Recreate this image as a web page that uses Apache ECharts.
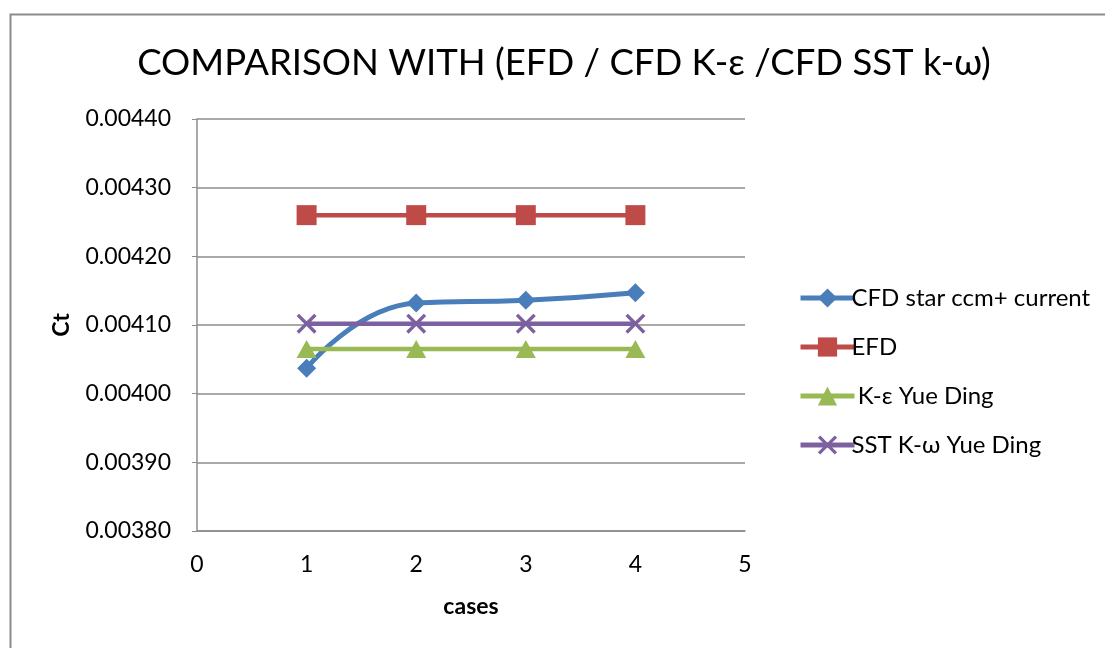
<!DOCTYPE html>
<html>
<head>
<meta charset="utf-8">
<script src="https://cdn.jsdelivr.net/npm/echarts@6/dist/echarts.min.js"></script>
<style>
  html, body { margin: 0; padding: 0; background: #fff; }
  #chart { width: 1105px; height: 648px; }
</style>
</head>
<body>
<div id="chart"></div>
<script>
// Total resistance coefficient Ct per case
const cases = [1, 2, 3, 4];
const cfdStarCcm = [0.004037, 0.004132, 0.004136, 0.004147];
const efd = [0.00426, 0.00426, 0.00426, 0.00426];
const kEpsYueDing = [0.004065, 0.004065, 0.004065, 0.004065];
const sstKOmegaYueDing = [0.004102, 0.004102, 0.004102, 0.004102];

const seriesNames = ['CFD star ccm+ current', 'EFD', ' K-ε Yue Ding', 'SST K-ω Yue Ding'];
const FONT = 'Lato';

const pairs = vals => cases.map((c, i) => [c, vals[i]]);
const crossPath = 'path://M0,1.2L1.2,0L5,3.8L8.8,0L10,1.2L6.2,5L10,8.8L8.8,10L5,6.2L1.2,10L0,8.8L3.8,5Z';

const chart = echarts.init(document.getElementById('chart'), null, { renderer: 'canvas' });
chart.setOption({
  backgroundColor: '#fff',
  animation: false,
  title: {
    text: 'COMPARISON WITH (EFD / CFD K-ε /CFD SST k-ω)',
    left: 559,
    textAlign: 'center',
    top: 40,
    textStyle: { fontFamily: FONT, fontWeight: 'normal', fontSize: 36.5, color: '#000' }
  },
  graphic: [{
    type: 'rect',
    shape: { x: 10.5, y: 14.5, width: 1200, height: 800 },
    style: { fill: 'none', stroke: '#8c8c8c', lineWidth: 2 },
    silent: true, z: -1
  }],
  legend: {
    orient: 'vertical',
    left: 793,
    top: 281,
    itemGap: 25,
    itemWidth: 54,
    itemHeight: 24,
    lineStyle: { width: 5 },
    textStyle: { fontFamily: FONT, fontSize: 24, color: '#000', padding: [0, 0, 0, -8] },
    data: seriesNames
  },
  grid: { left: 197, top: 119, width: 548, height: 412, containLabel: false },
  xAxis: {
    type: 'value',
    min: 0, max: 5, interval: 1,
    name: 'cases',
    nameLocation: 'middle',
    nameGap: 64,
    nameTextStyle: { fontFamily: FONT, fontWeight: 'bold', fontSize: 23, color: '#000' },
    axisLine: { lineStyle: { color: '#8c8c8c', width: 1.5 } },
    axisTick: { show: false },
    splitLine: { show: false },
    axisLabel: { fontFamily: FONT, fontSize: 23, color: '#000', margin: 22 }
  },
  yAxis: {
    type: 'value',
    min: 0.0038, max: 0.0044, interval: 0.0001,
    name: 'Ct',
    nameLocation: 'middle',
    nameGap: 124,
    nameTextStyle: { fontFamily: FONT, fontWeight: 'bold', fontSize: 23, color: '#000' },
    axisLine: { show: true, lineStyle: { color: '#8c8c8c', width: 1.5 } },
    axisTick: { show: true, length: 5, lineStyle: { color: '#8c8c8c' } },
    splitLine: { lineStyle: { color: '#8c8c8c', width: 1.5 } },
    axisLabel: {
      fontFamily: FONT, fontSize: 23, color: '#000', margin: 26,
      formatter: v => v.toFixed(5)
    }
  },
  series: [
    {
      name: seriesNames[0], type: 'line', data: pairs(cfdStarCcm),
      smooth: 0.5, symbol: 'diamond', symbolSize: 19,
      lineStyle: { color: '#4a7ebb', width: 5 },
      itemStyle: { color: '#4a7ebb' }
    },
    {
      name: seriesNames[1], type: 'line', data: pairs(efd),
      symbol: 'rect', symbolSize: 20,
      lineStyle: { color: '#be4b48', width: 4.5 },
      itemStyle: { color: '#be4b48' }
    },
    {
      name: seriesNames[2], type: 'line', data: pairs(kEpsYueDing),
      symbol: 'triangle', symbolSize: [20, 18],
      lineStyle: { color: '#98b954', width: 4.5 },
      itemStyle: { color: '#98b954' }
    },
    {
      name: seriesNames[3], type: 'line', data: pairs(sstKOmegaYueDing),
      symbol: crossPath, symbolSize: 20,
      lineStyle: { color: '#7d60a0', width: 4.5 },
      itemStyle: { color: '#7d60a0' }
    }
  ]
});
</script>
</body>
</html>
